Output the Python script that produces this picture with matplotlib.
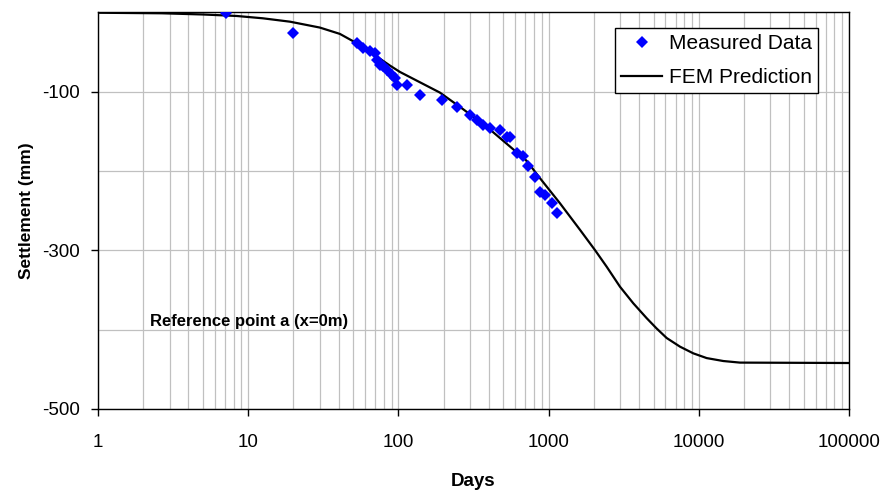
import matplotlib
matplotlib.use("Agg")
import matplotlib.pyplot as plt
import numpy as np

plt.rcParams['font.family'] = ['Liberation Sans', 'DejaVu Sans']
plt.rcParams['axes.unicode_minus'] = False

# measured settlement (days, mm)
meas_days = [7.1, 19.9, 52.8, 58, 64.7, 69.8, 71.7, 75.4, 79, 83.6, 90, 95, 97.5,
             113.5, 139, 194, 244, 300, 332, 367, 407, 475, 526, 553, 613, 672,
             733, 812, 877, 946, 1050, 1144]
meas_mm = [-1, -26, -39, -45, -49, -51.5, -60, -66, -68, -72.5, -79, -83, -91,
           -91, -104, -110, -119, -129, -135.6, -142, -146, -148, -156.6, -156.6,
           -177.6, -181, -194, -207, -226, -230, -240.6, -252.5]

# FEM prediction curve
fem_days = [1, 2.67, 5, 8.4, 12.5, 19, 30, 40.8, 55.5, 88, 102.5, 189, 270, 387,
            553, 714, 877, 1191, 1618, 2037, 2437, 2988, 3664, 4500, 5243, 6115,
            7500, 9190, 11290, 14560, 18800, 100000]
fem_mm = [-0.3, -1, -2.5, -4.4, -7.3, -11.6, -19, -27, -41, -67, -75, -101, -122,
          -144, -169, -187, -209, -240.6, -274, -299.6, -320.6, -345.8, -366.7,
          -385.5, -398.5, -410.5, -421.4, -429.8, -435.8, -439.5, -441.5, -442]

fig = plt.figure(figsize=(8.85, 4.92), dpi=100)
ax = fig.add_axes([0.1107, 0.1687, 0.9593 - 0.1107, 0.9746 - 0.1687])

ax.plot(meas_days, meas_mm, 'D', color='#0000ff', markersize=6.5,
        markeredgewidth=0, label='Measured Data', zorder=3)
ax.plot(fem_days, fem_mm, '-', color='black', linewidth=1.6,
        label='FEM Prediction', zorder=2)

ax.set_xscale('log')
ax.set_xlim(1, 100000)
ax.set_ylim(-500, 0)
ax.set_xticks([1, 10, 100, 1000, 10000, 100000])
ax.set_xticklabels(['1', '10', '100', '1000', '10000', '100000'])
ax.set_yticks([-500, -300, -100])
ax.set_yticks([-400, -200], minor=True)

ax.grid(True, which='both', axis='x', color='#c0c0c0', linewidth=0.9)
ax.grid(True, which='both', axis='y', color='#c0c0c0', linewidth=0.9)
ax.set_axisbelow(True)

ax.tick_params(axis='both', which='major', direction='out', length=5,
               width=1, labelsize=13.5, pad=8, color='black')
ax.tick_params(axis='both', which='minor', length=0)
ax.tick_params(axis='x', which='major', pad=13)
for s in ax.spines.values():
    s.set_color('black')
    s.set_linewidth(1)

ax.set_xlabel('Days', fontsize=13.5, fontweight='bold', labelpad=16)
ax.set_ylabel('Settlement (mm)', fontsize=12.5, fontweight='bold', labelpad=6)

ax.text(2.22, -390, 'Reference point a (x=0m)', fontsize=12, fontweight='bold',
        va='center', ha='left')

leg = ax.legend(loc='upper right', bbox_to_anchor=(0.9587, 0.961), fontsize=15,
                frameon=True, fancybox=False, edgecolor='black', framealpha=1,
                handlelength=2.0, handletextpad=0.3, borderpad=0.3,
                labelspacing=0.7, borderaxespad=0)
leg.get_frame().set_linewidth(1)

fig.savefig('out.png', dpi=100)
